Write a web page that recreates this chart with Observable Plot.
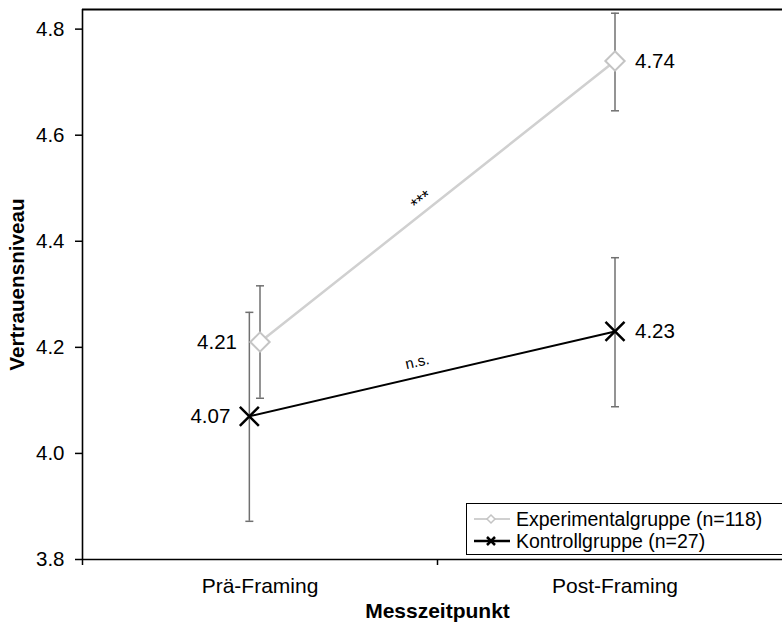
<!DOCTYPE html>
<html>
<head>
<meta charset="utf-8">
<script src="https://cdn.jsdelivr.net/npm/d3@7"></script>
<script src="https://cdn.jsdelivr.net/npm/@observablehq/plot@0.6"></script>
<style>
html, body { margin: 0; padding: 0; background: #fff; overflow: hidden; }
#wrap { position: relative; width: 782px; height: 622px; font-family: "Liberation Sans", Arial, sans-serif; }
#legend { position: absolute; left: 466px; top: 503px; width: 330px; height: 52px; border: 1px solid #000; background: #fff; box-sizing: border-box; font-size: 19.5px; color: #000; }
#legend .row { position: absolute; left: 7px; height: 22px; display: flex; align-items: center; white-space: nowrap; }
#legend .row svg { display: block; margin-right: 4px; }
</style>
</head>
<body>
<div id="wrap"></div>
<script>
const timepoints = ["Prä-Framing", "Post-Framing"];
const groups = ["Experimentalgruppe (n=118)", "Kontrollgruppe (n=27)"];
const expMeans = [4.21, 4.74];
const expLow = [4.104, 4.646];
const expHigh = [4.316, 4.830];
const ctrlMeans = [4.07, 4.23];
const ctrlLow = [3.872, 4.088];
const ctrlHigh = [4.266, 4.369];
const yTicks = [3.8, 4.0, 4.2, 4.4, 4.6, 4.8];
const significance = ["***", "n.s."];
const xTitle = "Messzeitpunkt";
const yTitle = "Vertrauensniveau";

const expColor = "#d0d0d0";
const expMarker = "#c4c4c4";
const ctrlColor = "#000000";
const errColor = "#707070";

// position of a group at a time point on the x scale (control pre point slightly shifted, as in the original)
const pos = (i, g) => i + 0.5 + (g === 1 && i === 0 ? -0.03 : 0);

const exp = timepoints.map((t, i) => ({t, x: pos(i, 0), y: expMeans[i], lo: expLow[i], hi: expHigh[i], i}));
const ctrl = timepoints.map((t, i) => ({t, x: pos(i, 1), y: ctrlMeans[i], lo: ctrlLow[i], hi: ctrlHigh[i], i}));
const all = exp.concat(ctrl);
const caps = all.flatMap(d => [{x: d.x, y: d.lo}, {x: d.x, y: d.hi}]);

const mid = (a) => ({x: (a[0].x + a[1].x) / 2, y: (a[0].y + a[1].y) / 2});
const sigExp = [{...mid(exp), s: significance[0]}];
const sigCtrl = [{...mid(ctrl), s: significance[1]}];

const capSymbol = {
  draw(ctx, size) {
    const r = Math.sqrt(size / Math.PI);
    ctx.moveTo(-r, 0);
    ctx.lineTo(r, 0);
  }
};

const chart = Plot.plot({
  width: 782,
  height: 622,
  marginLeft: 82,
  marginRight: 0,
  marginTop: 9,
  marginBottom: 63,
  style: {fontFamily: "'Liberation Sans', Arial, sans-serif", fontSize: "20px", color: "#000", background: "#fff"},
  x: {type: "linear", domain: [0, 2], range: [82, 792]},
  y: {domain: [3.8, 4.837]},
  marks: [
    Plot.ruleY([4.837], {stroke: "#000", strokeWidth: 2}),
    Plot.ruleY([3.8], {stroke: "#000", strokeWidth: 1.6}),
    Plot.ruleX([0], {stroke: "#000", strokeWidth: 1.6}),
    Plot.axisY(yTicks, {tickFormat: d => d.toFixed(1), tickSize: 7, tickPadding: 11, strokeWidth: 1.5, label: null, fontSize: 20.5}),
    Plot.axisX([0, 1, 2], {tickSize: 6, tickFormat: () => "", strokeWidth: 1.5, label: null}),
    Plot.axisX([0.5, 1.5], {tickSize: 0, tickPadding: 19, tickFormat: d => timepoints[Math.floor(d)], label: null, fontSize: 21}),
    Plot.text([xTitle], {x: () => 1, frameAnchor: "bottom", lineAnchor: "bottom", dy: 58, text: d => d, fontWeight: "bold", fontSize: 21}),
    Plot.text([yTitle], {frameAnchor: "left", textAnchor: "middle", rotate: -90, dx: -65, dy: 0, text: d => d, fontWeight: "bold", fontSize: 20.7}),
    // error bars
    Plot.ruleX(all, {x: "x", y1: "lo", y2: "hi", stroke: errColor, strokeWidth: 1.5}),
    Plot.dot(caps, {x: "x", y: "y", symbol: capSymbol, r: 4, stroke: errColor, strokeWidth: 1.5}),
    // lines
    Plot.line(exp, {x: "x", y: "y", stroke: expColor, strokeWidth: 2.5}),
    Plot.line(ctrl, {x: "x", y: "y", stroke: ctrlColor, strokeWidth: 2}),
    // markers
    Plot.dot(exp, {x: "x", y: "y", symbol: "diamond2", r: 8.7, fill: "#fff", stroke: expMarker, strokeWidth: 2}),
    Plot.dot(ctrl, {x: "x", y: "y", symbol: "times", r: 8.7, stroke: ctrlColor, strokeWidth: 2.5}),
    // value labels
    Plot.text(exp.filter(d => d.i === 0), {x: "x", y: "y", text: d => d.y.toFixed(2), textAnchor: "end", dx: -23, fontSize: 20.5}),
    Plot.text(ctrl.filter(d => d.i === 0), {x: "x", y: "y", text: d => d.y.toFixed(2), textAnchor: "end", dx: -19, fontSize: 20.5}),
    Plot.text(all.filter(d => d.i === 1), {x: "x", y: "y", text: d => d.y.toFixed(2), textAnchor: "start", dx: 20, fontSize: 20.5}),
    // significance
    Plot.text(sigExp, {x: "x", y: "y", text: "s", rotate: -38, dx: -16, dy: -1, fontSize: 18}),
    Plot.text(sigCtrl, {x: "x", y: "y", text: "s", rotate: -13, dx: -15, dy: -12, fontSize: 15})
  ]
});

const wrap = document.getElementById("wrap");
wrap.appendChild(chart);

// legend
const legend = document.createElement("div");
legend.id = "legend";
const sw = [
  `<svg width="38" height="22"><line x1="0" y1="11" x2="36" y2="11" stroke="${expColor}" stroke-width="2"/><path d="M17,7 L21,11 L17,15 L13,11 Z" fill="#fff" stroke="${expMarker}" stroke-width="1.5"/></svg>`,
  `<svg width="38" height="22"><line x1="0" y1="11" x2="36" y2="11" stroke="${ctrlColor}" stroke-width="2.5"/><path d="M13,7 L21,15 M21,7 L13,15" stroke="${ctrlColor}" stroke-width="2.5"/></svg>`
];
groups.forEach((g, k) => {
  const row = document.createElement("div");
  row.className = "row";
  row.style.top = (k === 0 ? 4 : 26) + "px";
  row.innerHTML = sw[k] + `<span>${g}</span>`;
  legend.appendChild(row);
});
wrap.appendChild(legend);
</script>
</body>
</html>
